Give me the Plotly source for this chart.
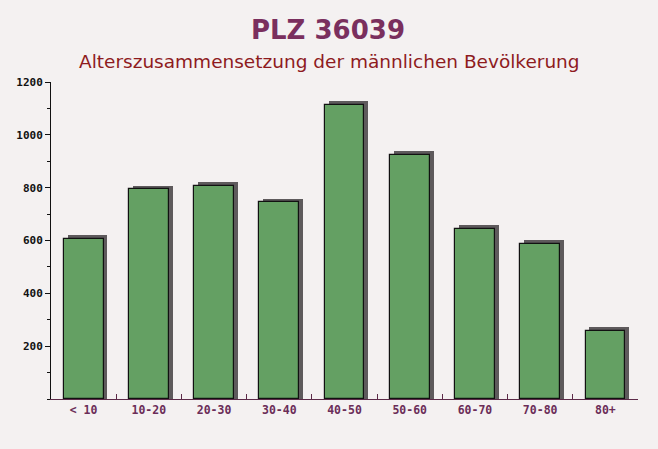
import plotly.graph_objects as go

categories = ["< 10", "10-20", "20-30", "30-40", "40-50", "50-60", "60-70", "70-80", "80+"]
values = [605, 794, 806, 745, 1113, 923, 643, 587, 257]
y_ticks = [200, 400, 600, 800, 1000, 1200]

title_text = "PLZ 36039"
subtitle_text = "Alterszusammensetzung der männlichen Bevölkerung"

W, H = 658, 449
ML, MR, MT, MB = 51, 20, 82, 50

bar_w = 0.61
shadow_dx = 0.06      # category units
shadow_dy = 14        # value units

fig = go.Figure()
fig.add_trace(go.Bar(
    x=categories, y=[v + shadow_dy for v in values],
    width=bar_w, offset=-bar_w / 2 + shadow_dx,
    marker=dict(color="#5e5a5c", line=dict(width=0)),
    hoverinfo="skip", showlegend=False,
))
fig.add_trace(go.Bar(
    x=categories, y=values,
    width=bar_w, offset=-bar_w / 2,
    marker=dict(color="#64a063", line=dict(color="#111111", width=1.2)),
    showlegend=False,
))

plot_w = W - ML - MR
plot_h = H - MT - MB


def px_to_paper(px, py):
    return (px - ML) / plot_w, (H - MB - py) / plot_h


tx, ty = px_to_paper(328, 30)
sx, sy = px_to_paper(329, 62)

fig.update_layout(
    width=W, height=H,
    margin=dict(l=ML, r=MR, t=MT, b=MB),
    paper_bgcolor="#f4f1f1",
    plot_bgcolor="rgba(0,0,0,0)",
    barmode="overlay",
    bargap=0,
    annotations=[
        dict(text="<b>" + title_text + "</b>", x=tx, y=ty, xref="paper", yref="paper",
             xanchor="center", yanchor="middle",
             showarrow=False, font=dict(family="DejaVu Sans", size=26, color="#7a2f5e")),
        dict(text=subtitle_text, x=sx, y=sy, xref="paper", yref="paper",
             xanchor="center", yanchor="middle",
             showarrow=False, font=dict(family="DejaVu Sans", size=18.5, color="#8e1b1e")),
    ],
)

fig.update_xaxes(
    showline=True, linecolor="#5c2a48", linewidth=1.2,
    ticks="inside", tickson="boundaries", ticklen=5, tickcolor="#5c2a48",
    tickfont=dict(family="DejaVu Sans Mono", size=11.5, color="#6b2d58", weight="bold"),
    showgrid=False, range=[-0.5, 8.5],
)
fig.update_yaxes(
    range=[0, 1200], tickvals=y_ticks,
    showline=True, linecolor="#111111", linewidth=1,
    ticks="outside", ticklen=5, tickcolor="#111111",
    minor=dict(dtick=100, ticks="outside", ticklen=3, tickcolor="#111111"),
    tickfont=dict(family="DejaVu Sans Mono", size=11, color="#111111", weight="bold"),
    showgrid=False, zeroline=False,
)

fig.write_html(
    "out.html",
    config={"displayModeBar": False},
    post_script="document.body.style.margin='0';document.body.style.background='#f4f1f1';",
)
